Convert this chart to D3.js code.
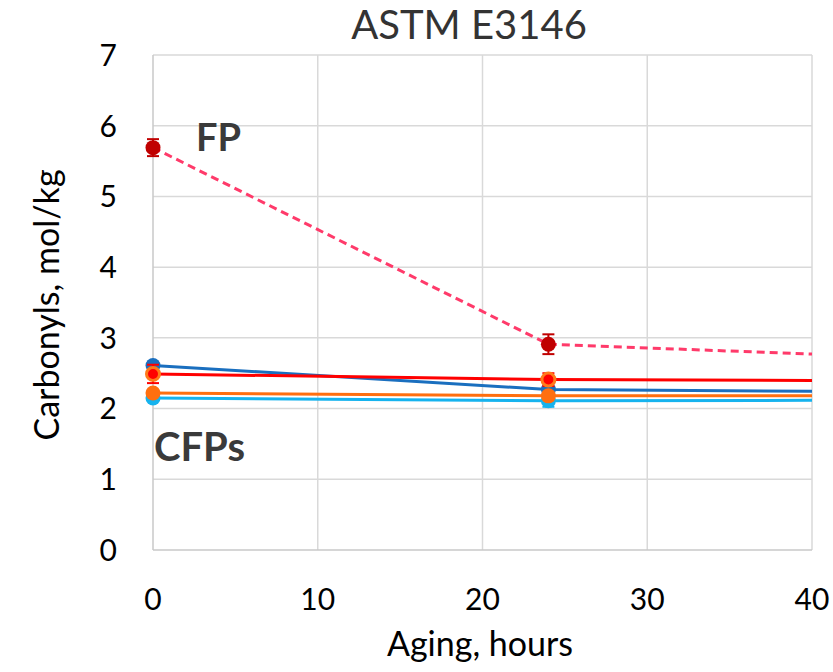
<!DOCTYPE html>
<html><head><meta charset="utf-8">
<script src="https://cdn.jsdelivr.net/npm/d3@7"></script>
<style>body{margin:0;background:#fff}svg{display:block}text{font-family:Lato,"Open Sans",sans-serif}</style>
</head><body>
<script>
// ---- data ----
const hours = [0, 24, 48];
const seriesNames = ["CFP blue", "CFP light blue", "CFP orange", "CFP red", "FP"];
const valuesBlue = [2.61, 2.27, 2.23];
const valuesLightBlue = [2.15, 2.11, 2.12];
const valuesOrange = [2.22, 2.18, 2.18];
const valuesRed = [2.49, 2.41, 2.39];
const valuesFP = [5.69, 2.91, 2.70];
const errBlue = [0.05, 0.1, null];
const errLightBlue = [0.04, 0.085, null];
const errOrange = [0.03, 0.05, null];
const errRed = [0.13, 0.09, null];
const errFP = [0.12, 0.14, null];
const xTicks = [0, 10, 20, 30, 40];
const yTicks = [0, 1, 2, 3, 4, 5, 6, 7];
const title = "ASTM E3146";
const xTitle = "Aging, hours";
const yTitle = "Carbonyls, mol/kg";

const W = 833, H = 672;
const svg = d3.select("body").append("svg").attr("width", W).attr("height", H);
const x = d3.scaleLinear().domain([0, 40]).range([153, 812]);
const y = d3.scaleLinear().domain([0, 7]).range([550, 55]);

// grid
svg.append("g").selectAll("line").data(yTicks.filter(d => d > 0)).join("line")
  .attr("x1", x(0)).attr("x2", x(40)).attr("y1", d => y(d)).attr("y2", d => y(d))
  .attr("stroke", "#d9d9d9").attr("stroke-width", 1.5);
svg.append("g").selectAll("line").data(xTicks.filter(d => d > 0)).join("line")
  .attr("x1", d => x(d)).attr("x2", d => x(d)).attr("y1", y(0)).attr("y2", y(7))
  .attr("stroke", "#d9d9d9").attr("stroke-width", 1.5);
// axes lines
svg.append("line").attr("x1", x(0)).attr("x2", x(0)).attr("y1", y(0)).attr("y2", y(7))
  .attr("stroke", "#c8c8c8").attr("stroke-width", 1.5);
svg.append("line").attr("x1", x(0)).attr("x2", x(40)).attr("y1", y(0)).attr("y2", y(0))
  .attr("stroke", "#c8c8c8").attr("stroke-width", 1.5);

// tick labels
svg.append("g").selectAll("text").data(yTicks).join("text")
  .attr("x", 117).attr("y", d => y(d)).attr("dy", "0.36em").attr("text-anchor", "end")
  .attr("font-size", 30).attr("fill", "#000").text(d => d);
svg.append("g").selectAll("text").data(xTicks).join("text")
  .attr("x", d => x(d)).attr("y", 599).attr("dy", "0.36em").attr("text-anchor", "middle")
  .attr("font-size", 30).attr("fill", "#000").text(d => d);

// titles
svg.append("text").attr("x", 469).attr("y", 39).attr("text-anchor", "middle")
  .attr("font-size", 40).attr("fill", "#333").text(title);
svg.append("text").attr("x", 480).attr("y", 656).attr("text-anchor", "middle")
  .attr("font-size", 34).attr("fill", "#000").text(xTitle);
svg.append("text").attr("transform", "translate(47,305) rotate(-90)").attr("dy", "0.35em")
  .attr("text-anchor", "middle").attr("font-size", 34).attr("fill", "#000").text(yTitle);

// clip
svg.append("clipPath").attr("id", "plot").append("rect")
  .attr("x", x(0) - 20).attr("y", y(7)).attr("width", x(40) - x(0) + 20).attr("height", y(0) - y(7));

const series = [
  {vals: valuesBlue, err: errBlue, line: "#1a6fbf", fill: "#1a6fbf", stroke: "none", dash: null, r: 7.5},
  {vals: valuesLightBlue, err: errLightBlue, line: "#16b3ee", fill: "#16b3ee", stroke: "none", dash: null, r: 7.5},
  {vals: valuesOrange, err: errOrange, line: "#ff6f0f", fill: "#ff6f0f", stroke: "none", dash: null, r: 7.5},
  {vals: valuesRed, err: errRed, line: "#ff0000", fill: "#ff0000", stroke: "#ff7a1a", dash: null, r: 6.5},
  {vals: valuesFP, err: errFP, line: "#ff3a6a", fill: "#c00000", stroke: "none", dash: "8,5", r: 7.5},
];
const line = d3.line().x(d => x(d[0])).y(d => y(d[1]));
const g = svg.append("g").attr("clip-path", "url(#plot)");
series.forEach(s => {
  const pts = hours.map((h, i) => [h, s.vals[i], s.err[i]]);
  g.append("path").attr("d", line(pts)).attr("fill", "none").attr("stroke", s.line)
    .attr("stroke-width", 3).attr("stroke-dasharray", s.dash);
  const vis = pts.filter(p => p[0] <= 40);
  vis.forEach(p => {
    if (p[2] != null) {
      const ec = s.fill;
      g.append("line").attr("x1", x(p[0])).attr("x2", x(p[0])).attr("y1", y(p[1] - p[2])).attr("y2", y(p[1] + p[2]))
        .attr("stroke", ec).attr("stroke-width", 2);
      [p[1] - p[2], p[1] + p[2]].forEach(v => g.append("line").attr("x1", x(p[0]) - 6).attr("x2", x(p[0]) + 6)
        .attr("y1", y(v)).attr("y2", y(v)).attr("stroke", ec).attr("stroke-width", 2));
    }
    g.append("circle").attr("cx", x(p[0])).attr("cy", y(p[1])).attr("r", s.r)
      .attr("fill", s.fill).attr("stroke", s.stroke).attr("stroke-width", s.stroke === "none" ? 0 : 3);
  });
});

// annotations
svg.append("text").attr("x", 196).attr("y", 138).attr("dy", "0.35em").attr("font-size", 38)
  .attr("font-weight", "bold").attr("fill", "#3a3a3a").text("FP");
svg.append("text").attr("x", 154).attr("y", 447).attr("dy", "0.35em").attr("font-size", 40)
  .attr("font-weight", "bold").attr("fill", "#3a3a3a").text("CFPs");
</script>
</body></html>
